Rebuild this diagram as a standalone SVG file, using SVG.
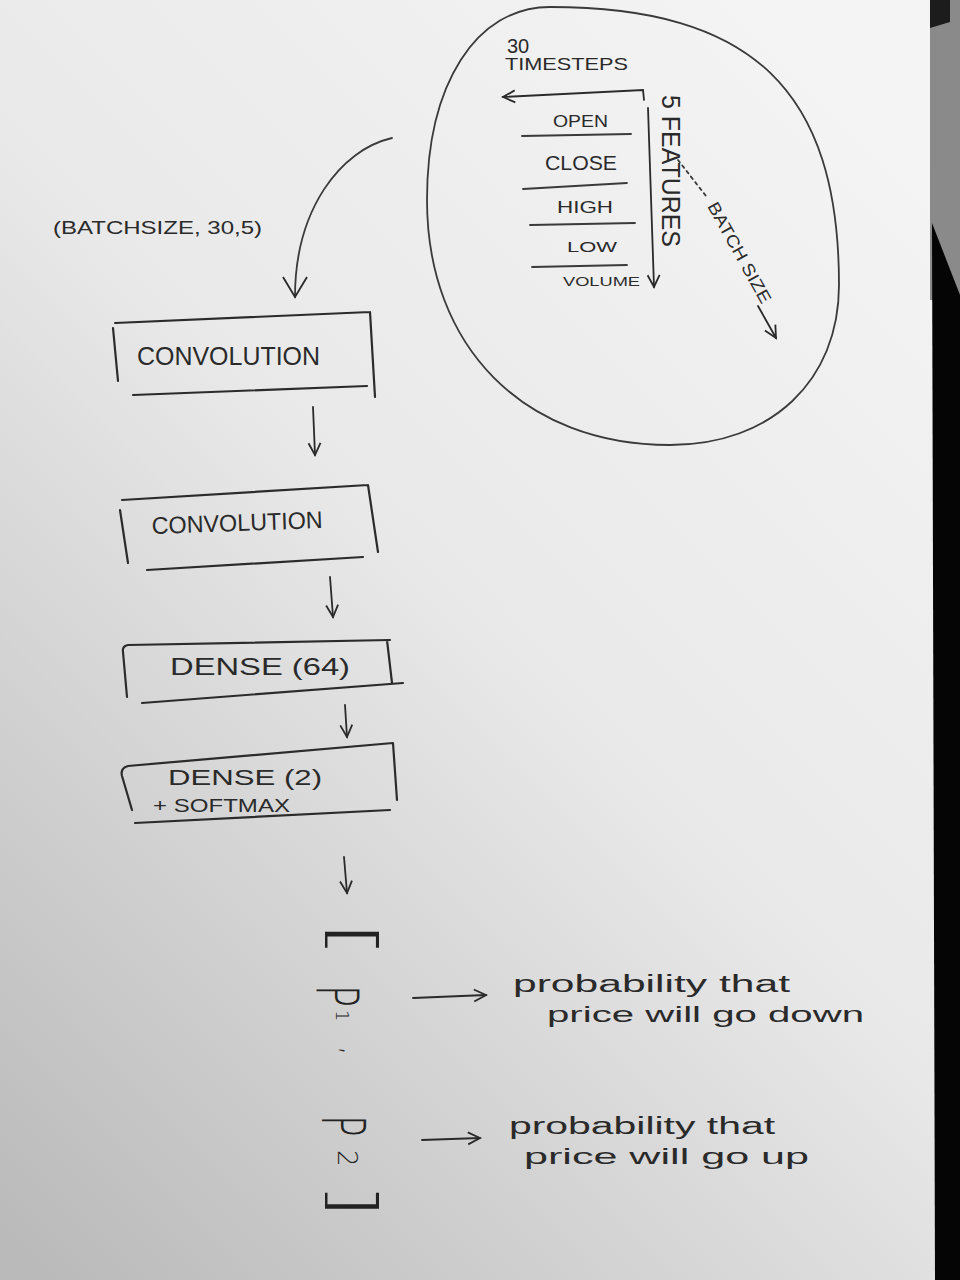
<svg xmlns="http://www.w3.org/2000/svg" width="960" height="1280" viewBox="0 0 960 1280">
<defs>
<linearGradient id="paper" x1="0.8" y1="0" x2="0.05" y2="1">
<stop offset="0" stop-color="#f4f4f4"/>
<stop offset="0.45" stop-color="#e9e9e9"/>
<stop offset="1" stop-color="#bababa"/>
</linearGradient>
<marker id="ah" viewBox="0 0 16 16" refX="14" refY="8" markerWidth="16" markerHeight="16" markerUnits="userSpaceOnUse" orient="auto">
<path d="M2,2 L14,8 L2,14" fill="none" stroke="#2a2a2a" stroke-width="1.8"/>
</marker>
<marker id="ahL" viewBox="0 0 26 26" refX="23" refY="13" markerWidth="26" markerHeight="26" markerUnits="userSpaceOnUse" orient="auto">
<path d="M3,1 L23,13 L3,25" fill="none" stroke="#2a2a2a" stroke-width="1.8"/>
</marker>
<style>
.ln{fill:none;stroke:#2b2b2b;stroke-width:2.2;stroke-linecap:round;stroke-linejoin:round}
.thin{fill:none;stroke:#3a3a3a;stroke-width:1.8;stroke-linecap:round}
.arr{fill:none;stroke:#2a2a2a;stroke-width:1.8;stroke-linecap:round;marker-end:url(#ah)}
.t{font-family:"Liberation Sans",Arial,sans-serif;fill:#2a2a2a}
.g{font-family:"DejaVu Sans","Liberation Sans",sans-serif;font-weight:200;fill:#222}
</style>
</defs>

<rect x="0" y="0" width="960" height="1280" fill="url(#paper)"/>
<g id="page-edge">
<rect x="930" y="0" width="30" height="300" fill="#8a8a8a"/>
<polygon points="930,0 950,0 950,22 930,28" fill="#1c1c1c"/>
<polygon points="932,223 960,295 960,1280 935,1280" fill="#050505"/>
</g>

<g id="input-tensor">
<path class="thin" stroke="#555" d="M550,7 C752,7 839,90 839,285 C839,381 771,445 670,445 C524,445 427,347 427,200 C427,84 476,7 550,7 Z"/>
<text class="t" x="507" y="53" font-size="20">30</text>
<text class="t" x="505" y="70" font-size="17" textLength="123" lengthAdjust="spacingAndGlyphs">TIMESTEPS</text>
<text class="t" x="553" y="127" font-size="16" textLength="55" lengthAdjust="spacingAndGlyphs">OPEN</text>
<text class="t" x="545" y="170" font-size="20" textLength="72" lengthAdjust="spacingAndGlyphs">CLOSE</text>
<text class="t" x="557" y="213" font-size="16" textLength="56" lengthAdjust="spacingAndGlyphs">HIGH</text>
<text class="t" x="567" y="252" font-size="15" textLength="50" lengthAdjust="spacingAndGlyphs">LOW</text>
<text class="t" x="563" y="286" font-size="12" textLength="77" lengthAdjust="spacingAndGlyphs">VOLUME</text>
<path class="thin" d="M522,136 L631,134 M523,189 L627,183 M530,225 L635,223 M532,267 L627,265"/>
<text class="t" font-size="26" textLength="152" lengthAdjust="spacingAndGlyphs" transform="translate(662,95) rotate(90)">5 FEATURES</text>
<text class="t" font-size="17" textLength="113" lengthAdjust="spacingAndGlyphs" transform="translate(707,206) rotate(61)">BATCH SIZE</text>
</g>

<text id="input-shape" class="t" x="53" y="234" font-size="18" textLength="209" lengthAdjust="spacingAndGlyphs">(BATCHSIZE, 30,5)</text>

<g id="conv1">
<path class="ln" d="M115,323 L370,312 M113,328 L118,381 M370,312 L375,397 M133,395 L367,386"/>
<text class="t" x="137" y="365" font-size="26" textLength="183" lengthAdjust="spacingAndGlyphs">CONVOLUTION</text>
</g>
<g id="conv2">
<path class="ln" d="M122,500 L368,485 M120,510 L128,563 M368,485 L378,552 M147,570 L363,557"/>
<text class="t" font-size="24" textLength="171" lengthAdjust="spacingAndGlyphs" transform="translate(152,534) rotate(-2)">CONVOLUTION</text>
</g>
<g id="dense64">
<path class="ln" d="M128,645 L390,640 M128,645 Q122,646 123,652 L127,697 M387,640 L392,683 M142,703 L403,683"/>
<text class="t" x="170" y="675" font-size="24" textLength="180" lengthAdjust="spacingAndGlyphs">DENSE (64)</text>
</g>
<g id="dense2">
<path class="ln" d="M128,766 L393,743 M128,766 Q120,768 122,776 L132,810 M393,743 L397,800 M135,823 L390,810"/>
<text class="t" x="168" y="785" font-size="22" textLength="154" lengthAdjust="spacingAndGlyphs">DENSE (2)</text>
<text class="t" x="153" y="812" font-size="19" textLength="137" lengthAdjust="spacingAndGlyphs">+ SOFTMAX</text>
</g>

<g id="output">
<text class="g" font-size="60" transform="translate(333,921) rotate(90) scale(1.6,1)">[</text>
<text class="g" font-size="58" transform="translate(317,985) rotate(90) scale(0.63,1)">P</text>
<text class="g" font-size="18" transform="translate(336,1010) rotate(90)">1</text>
<text class="g" font-size="30" transform="translate(343,1046) rotate(90)">,</text>
<text class="g" font-size="60" transform="translate(322,1115) rotate(90) scale(0.6,1)">P</text>
<text class="g" font-size="26" transform="translate(338,1150) rotate(90)">2</text>
<text class="g" font-size="60" transform="translate(333,1182) rotate(90) scale(1.6,1)">]</text>
</g>

<g id="label-down">
<text class="t" x="513" y="992" font-size="23" textLength="277" lengthAdjust="spacingAndGlyphs">probability that</text>
<text class="t" x="547" y="1022" font-size="22" textLength="317" lengthAdjust="spacingAndGlyphs">price will go down</text>
</g>
<g id="label-up">
<text class="t" x="509" y="1134" font-size="23" textLength="266" lengthAdjust="spacingAndGlyphs">probability that</text>
<text class="t" x="524" y="1164" font-size="22" textLength="285" lengthAdjust="spacingAndGlyphs">price will go up</text>
</g>

<g id="connectors">
<path class="thin" d="M392,138 C340,150 295,210 295,297" marker-end="url(#ahL)"/>
<path class="arr" d="M644,100 L643,90 L503,97"/>
<path class="arr" d="M648,108 L654,287"/>
<path class="thin" stroke-dasharray="3,4" d="M678,160 L706,196"/>
<path class="arr" d="M758,306 L776,338"/>
<path class="arr" d="M313,407 L315,455"/>
<path class="arr" d="M330,577 L333,617"/>
<path class="arr" d="M345,705 L347,737"/>
<path class="arr" d="M344,857 L347,893"/>
<path class="arr" d="M413,998 L486,995"/>
<path class="arr" d="M422,1140 L480,1138"/>
</g>
</svg>
